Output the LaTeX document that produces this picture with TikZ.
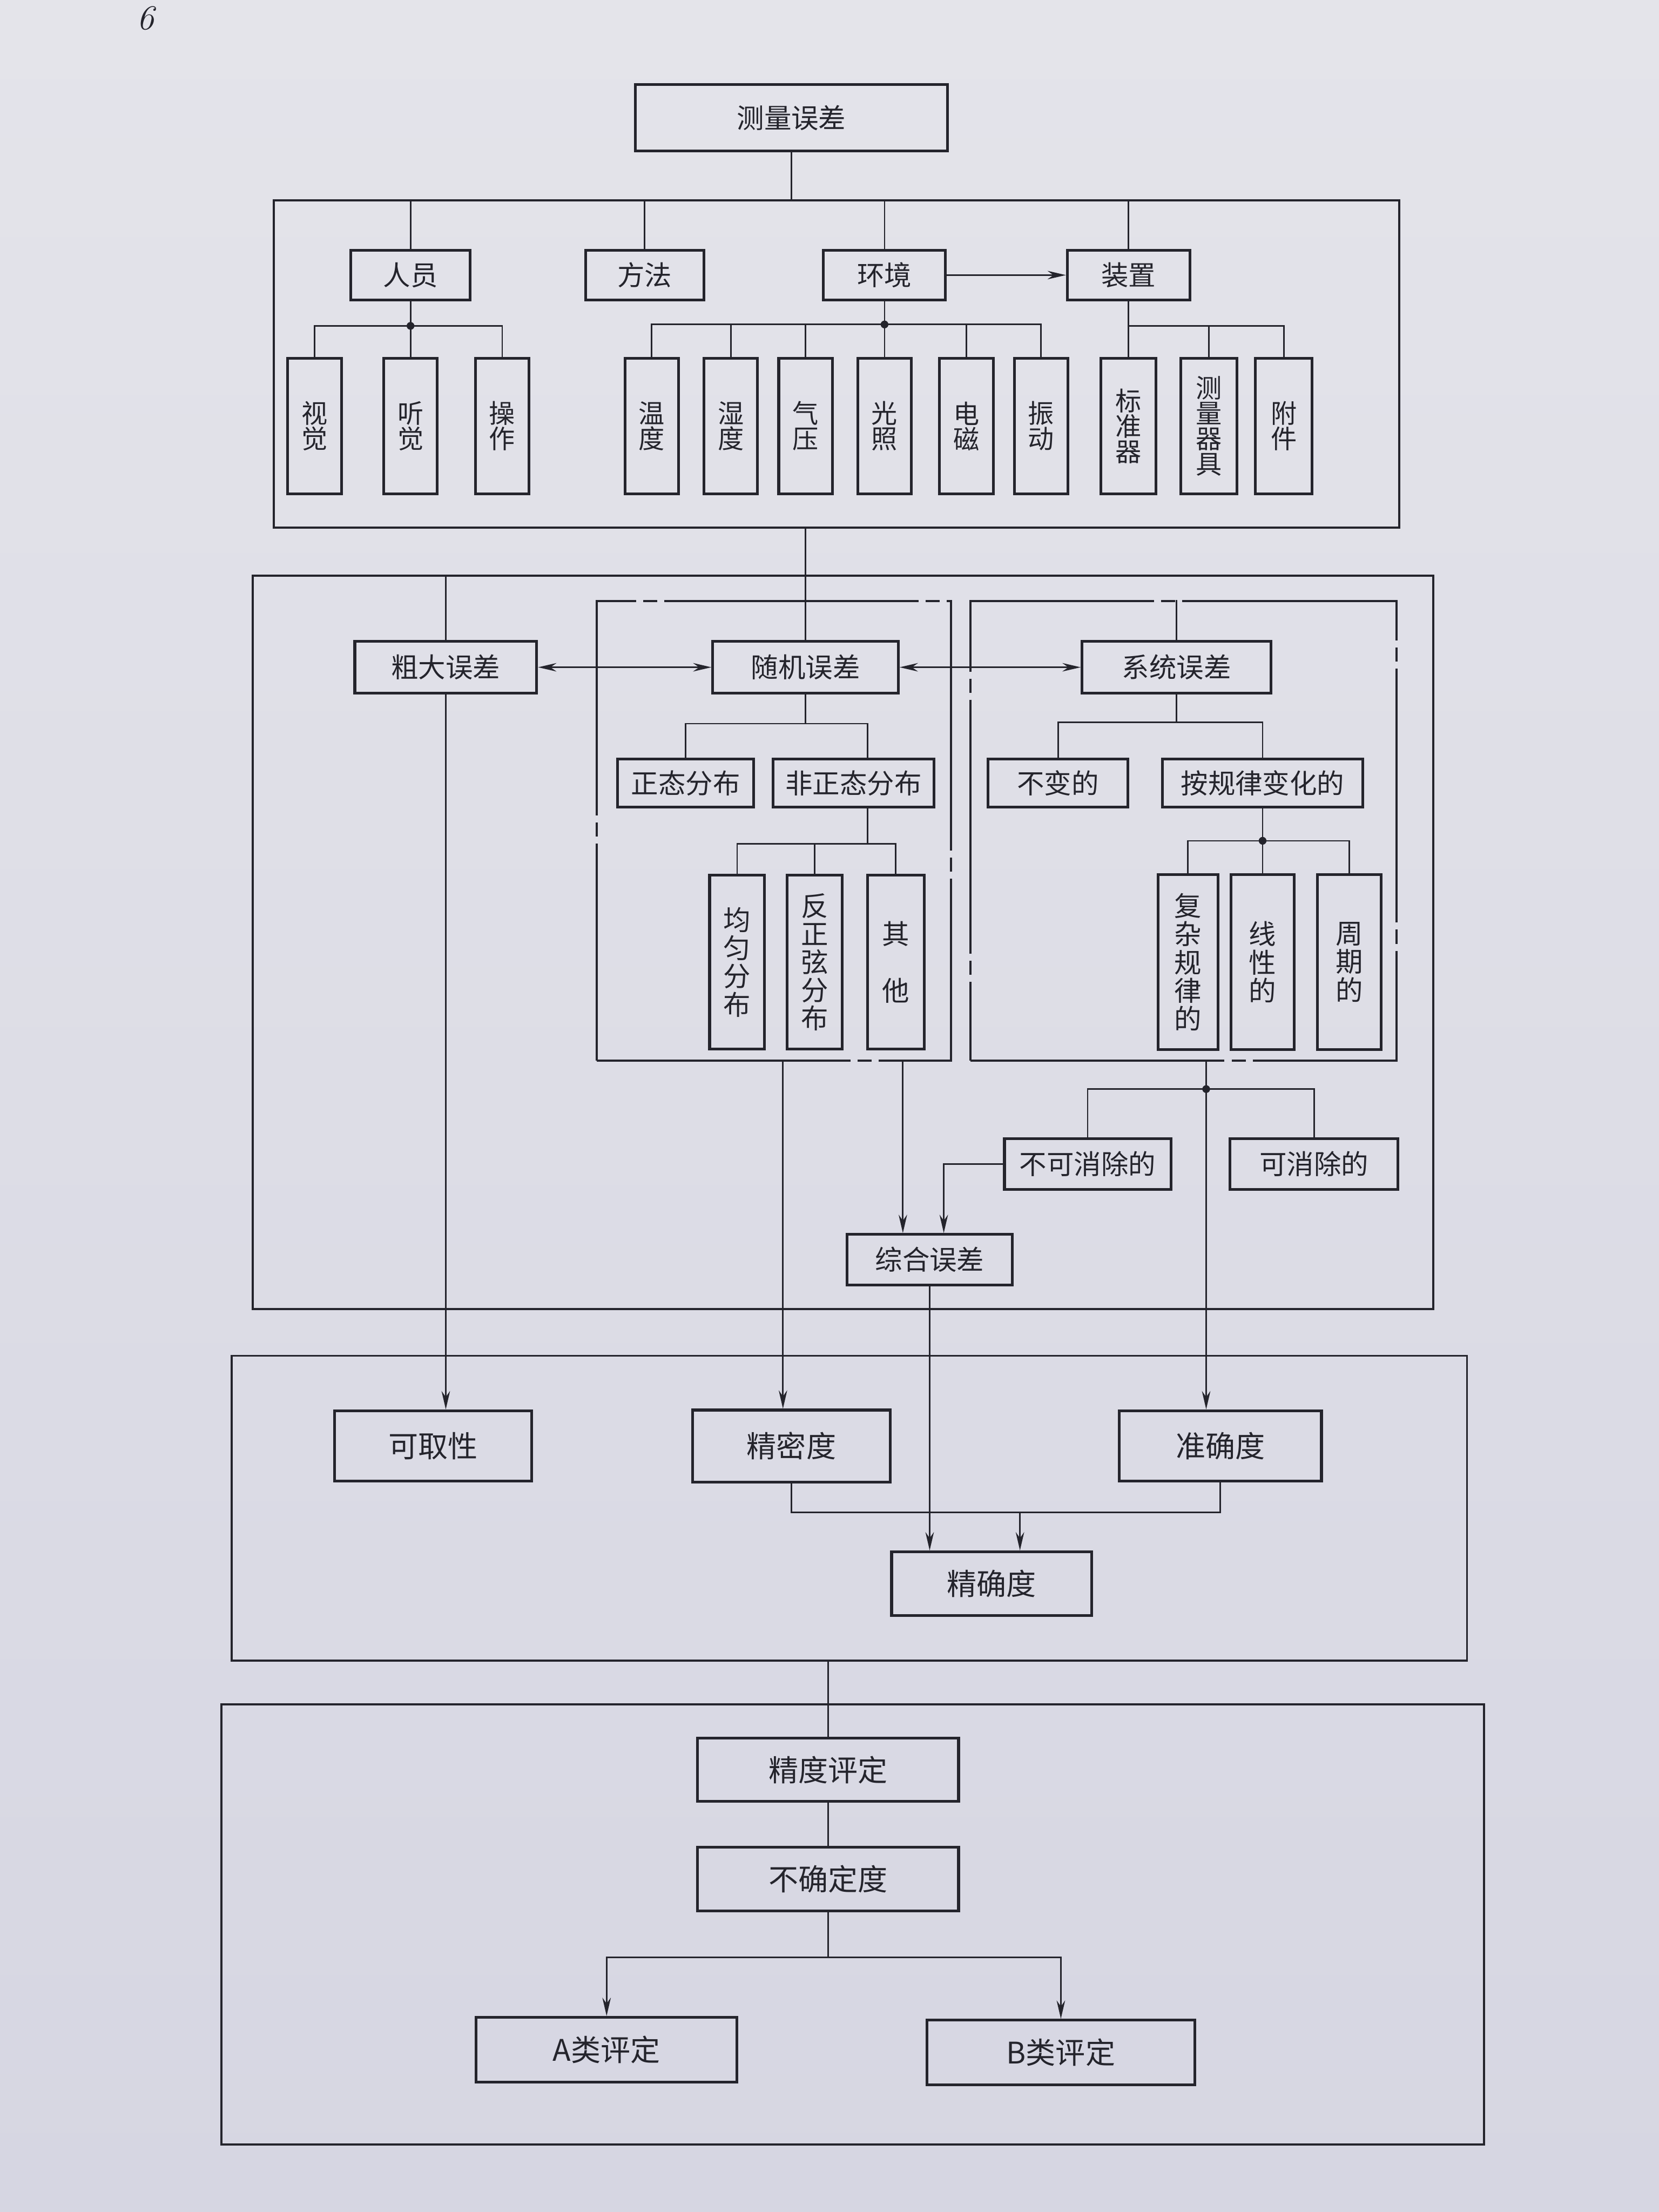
\documentclass[tikz,border=0pt]{standalone}
\usepackage{fontspec}
\newfontfamily\cjk{Noto Sans CJK SC}
\usetikzlibrary{arrows.meta}
\definecolor{ink}{RGB}{36,36,44}
\definecolor{papertop}{RGB}{228,228,234}
\definecolor{paperbot}{RGB}{214,214,226}
\begin{document}
\begin{tikzpicture}[x=0.02cm,y=-0.02cm,
  box/.style={draw=ink, line width=1.1pt, inner sep=0pt, align=center, text=ink,
    font=\cjk\fontsize{11pt}{13pt}\selectfont},
  bigbox/.style={box, font=\cjk\fontsize{12pt}{14pt}\selectfont},
  vbone/.style={box, font=\cjk\fontsize{10.5pt}{0.36cm}\selectfont,
    minimum width=0.76cm, minimum height=1.92cm},
  vbtwo/.style={box, font=\cjk\fontsize{11pt}{0.4cm}\selectfont,
    minimum height=2.46cm},
  ln/.style={draw=ink, line width=0.6pt},
  arr/.style={ln, -{Stealth[length=0.26cm,width=0.12cm]}},
  darr/.style={ln, {Stealth[length=0.26cm,width=0.12cm]}-{Stealth[length=0.26cm,width=0.12cm]}},
  sframe/.style={draw=ink, line width=0.85pt, inner sep=0pt},
  dframe/.style={sframe, dash pattern=on 3.6cm off 0.1cm on 0.2cm off 0.1cm},
  jdot/.style={fill=ink}
]
\shade[top color=papertop, bottom color=paperbot] (0,0) rectangle (1176,1568);
\useasboundingbox (0,0) rectangle (1176,1568);

% page number
\node[text=ink, font=\itshape\fontsize{14pt}{14pt}\selectfont] (pg) at (103,13) {6};

% ---------- frames ----------
\node[sframe, minimum width=15.96cm, minimum height=4.64cm] (S1) at (593,258) {};
\node[sframe, minimum width=16.74cm, minimum height=10.4cm] (S2) at (597.5,668) {};
\node[dframe, minimum width=5.02cm, minimum height=6.52cm] (RD) at (548.5,589) {};
\node[dframe, minimum width=6.04cm, minimum height=6.52cm] (SD) at (839,589) {};
\node[sframe, minimum width=17.52cm, minimum height=4.32cm] (S3) at (602,1069) {};
\node[sframe, minimum width=17.9cm, minimum height=6.24cm] (S4) at (604.5,1364) {};

% ---------- top ----------
\node[box, minimum width=4.42cm, minimum height=0.94cm] (top) at (561,83.5) {测量误差};

% ---------- section 1 ----------
\node[box, minimum width=1.69cm, minimum height=0.70cm] (ry) at (291,195) {人员};
\node[box, minimum width=1.68cm, minimum height=0.70cm] (ff) at (457,195) {方法};
\node[box, minimum width=1.73cm, minimum height=0.70cm] (hj) at (627,195) {环境};
\node[box, minimum width=1.74cm, minimum height=0.70cm] (zz) at (800,195) {装置};

\node[vbone] (sj) at (223,302) {视\\觉};
\node[vbone] (tj) at (291,302) {听\\觉};
\node[vbone] (cz) at (356,302) {操\\作};
\node[vbone] (wd) at (462,302) {温\\度};
\node[vbone] (sd) at (518,302) {湿\\度};
\node[vbone] (qy) at (571,302) {气\\压};
\node[vbone] (gz) at (627,302) {光\\照};
\node[vbone] (dc) at (685,302) {电\\磁};
\node[vbone] (zd) at (738,302) {振\\动};
\node[vbone, minimum width=0.78cm] (bzq) at (800,302) {标\\准\\器};
\node[vbone, minimum width=0.80cm] (clqj) at (857,302) {测\\量\\器\\具};
\node[vbone, minimum width=0.80cm] (fj) at (910,302) {附\\件};

\coordinate (ryb) at (291,231);
\coordinate (hjb) at (627,230);
\coordinate (zzb) at (800,231);

\draw[ln] (top.south) -- (top.south |- S1.north);
\draw[ln] (ry.north |- S1.north) -- (ry.north);
\draw[ln] (ff.north |- S1.north) -- (ff.north);
\draw[ln] (hj.north |- S1.north) -- (hj.north);
\draw[ln] (zz.north |- S1.north) -- (zz.north);
\draw[arr] (hj.east) -- (zz.west);

\draw[ln] (ry.south) -- (tj.north);
\draw[ln] (sj.north) |- (ryb) -| (cz.north);
\fill[jdot] (ryb) circle[radius=0.055cm];

\draw[ln] (hj.south) -- (gz.north);
\draw[ln] (wd.north) |- (hjb) -| (zd.north);
\draw[ln] (sd.north) -- (sd.north |- hjb);
\draw[ln] (qy.north) -- (qy.north |- hjb);
\draw[ln] (dc.north) -- (dc.north |- hjb);
\fill[jdot] (hjb) circle[radius=0.055cm];

\draw[ln] (zz.south) -- (bzq.north);
\draw[ln] (zzb) -| (fj.north);
\draw[ln] (clqj.north) -- (clqj.north |- zzb);

% ---------- section 2 ----------
\node[box, minimum width=2.58cm, minimum height=0.74cm] (cd) at (316,473) {粗大误差};
\node[box, minimum width=2.63cm, minimum height=0.74cm] (sjwc) at (571,473) {随机误差};
\node[box, minimum width=2.68cm, minimum height=0.74cm] (xtwc) at (834,473) {系统误差};

\node[box, minimum width=1.93cm, minimum height=0.68cm] (ztfb) at (486,555) {正态分布};
\node[box, minimum width=2.28cm, minimum height=0.68cm] (fzt) at (605,555) {非正态分布};
\node[box, minimum width=1.98cm, minimum height=0.68cm] (bbd) at (750,555) {不变的};
\node[box, minimum width=2.84cm, minimum height=0.68cm] (agl) at (895,555) {按规律变化的};

\node[vbtwo, minimum width=0.78cm] (jyfb) at (522.5,682) {均\\匀\\分\\布};
\node[vbtwo, minimum width=0.78cm] (fzx) at (577.5,682) {反\\正\\弦\\分\\布};
\node[vbtwo, minimum width=0.80cm] (qt) at (635,682) {其\\[0.4cm]他};
\node[vbtwo, minimum width=0.85cm, minimum height=2.48cm] (fz) at (842,682) {复\\杂\\规\\律\\的};
\node[vbtwo, minimum width=0.90cm, minimum height=2.48cm] (xx) at (895,682) {线\\性\\的};
\node[vbtwo, minimum width=0.90cm, minimum height=2.48cm] (zq) at (956.5,682) {周\\期\\的};

\node[box, minimum width=2.36cm, minimum height=0.72cm] (bkx) at (771,825) {不可消除的};
\node[box, minimum width=2.38cm, minimum height=0.72cm] (kx) at (931.5,825) {可消除的};
\node[box, minimum width=2.34cm, minimum height=0.72cm] (zh) at (659,893) {综合误差};

\draw[ln] (sjwc.north |- S1.south) -- (sjwc.north);
\draw[ln] (cd.north |- S2.north) -- (cd.north);
\draw[ln] (xtwc.north |- SD.north) -- (xtwc.north);
\draw[darr] (cd.east) -- (sjwc.west);
\draw[darr] (sjwc.east) -- (xtwc.west);

\coordinate (sjb) at (571,513);
\draw[ln] (sjwc.south) -- (sjb);
\draw[ln] (ztfb.north) |- (sjb) -| (615,0 |- fzt.north);

\coordinate (fztb) at (615,598);
\draw[ln] (615,0 |- fzt.south) -- (fztb);
\draw[ln] (jyfb.north) |- (fztb) -| (qt.north);
\draw[ln] (fzx.north) -- (fzx.north |- fztb);

\coordinate (xtb) at (834,512);
\draw[ln] (xtwc.south) -- (xtb);
\draw[ln] (bbd.north) |- (xtb) -| (agl.north);

\coordinate (aglb) at (895,596);
\draw[ln] (agl.south) -- (xx.north);
\draw[ln] (fz.north) |- (aglb) -| (zq.north);
\fill[jdot] (aglb) circle[radius=0.055cm];

\coordinate (sdb) at (855,772);
\draw[ln] (855,0 |- SD.south) -- (sdb);
\draw[ln] (bkx.north) |- (sdb) -| (kx.north);
\fill[jdot] (sdb) circle[radius=0.055cm];

\draw[arr] (bkx.west) -| (669,0 |- zh.north);
\draw[arr] (640,0 |- RD.south) -- (640,0 |- zh.north);

% ---------- section 3 ----------
\node[bigbox, minimum width=2.80cm, minimum height=1.00cm] (kqx) at (307,1025) {可取性};
\node[bigbox, minimum width=2.80cm, minimum height=1.02cm] (jmd) at (561,1025) {精密度};
\node[bigbox, minimum width=2.87cm, minimum height=1.00cm] (zqd) at (865,1025) {准确度};
\node[bigbox, minimum width=2.84cm, minimum height=0.90cm] (jqd) at (703,1122.5) {精确度};

\draw[arr] (cd.south) -- (cd.south |- kqx.north);
\draw[arr] (555,0 |- RD.south) -- (555,0 |- jmd.north);
\draw[arr] (sdb) -- (sdb |- zqd.north);
\draw[arr] (zh.south) -- (zh.south |- jqd.north);

\coordinate (jb) at (723,1072);
\draw[ln] (jmd.south) |- (jb);
\draw[ln] (zqd.south) |- (jb);
\draw[arr] (jb) -- (jb |- jqd.north);

% ---------- section 4 ----------
\node[bigbox, minimum width=3.70cm, minimum height=0.90cm] (jdpd) at (587,1254.5) {精度评定};
\node[bigbox, minimum width=3.70cm, minimum height=0.90cm] (bqd) at (587,1332) {不确定度};
\node[bigbox, minimum width=3.70cm, minimum height=0.92cm] (A) at (430,1453) {A类评定};
\node[bigbox, minimum width=3.80cm, minimum height=0.92cm] (B) at (752,1455) {B类评定};

\draw[ln] (jdpd.north |- S3.south) -- (jdpd.north);
\draw[ln] (jdpd.south) -- (bqd.north);
\coordinate (bqb) at (587,1387.5);
\draw[ln] (bqd.south) -- (bqb);
\draw[arr] (bqb) -| (A.north);
\draw[arr] (bqb) -| (B.north);
\end{tikzpicture}
\end{document}
